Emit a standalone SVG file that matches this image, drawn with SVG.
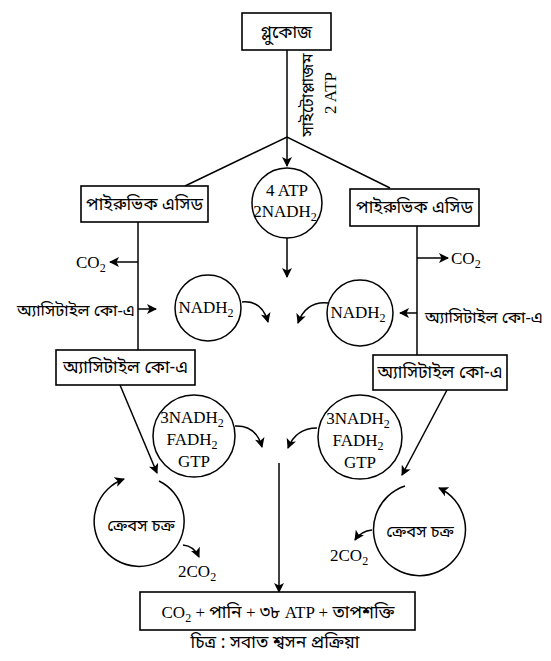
<svg xmlns="http://www.w3.org/2000/svg" width="551" height="661" viewBox="0 0 551 661">
<defs>
<marker id="ah" viewBox="0 0 10 10" refX="9" refY="5" markerWidth="10" markerHeight="10" markerUnits="userSpaceOnUse" orient="auto">
<path d="M0,0 L10,5 L0,10 L2.5,5 z" fill="#000"/>
</marker>
<style>
.box{fill:#fff;stroke:#000;stroke-width:1.6}
.circ{fill:#fff;stroke:#000;stroke-width:1.5}
.ln{fill:none;stroke:#000;stroke-width:1.5}
.bn{font-family:"Noto Sans Bengali","Noto Sans","Lohit Bengali",sans-serif;font-size:17.5px;fill:#000}
.bns{font-family:"Noto Sans Bengali","Noto Sans","Lohit Bengali",sans-serif;font-size:16.5px;fill:#000}
.lt{font-family:"Liberation Serif","Times New Roman",serif;font-size:17px;fill:#000}
</style>
</defs>
<rect width="551" height="661" fill="#fff"/>
<g id="connectors">
<line class="ln" x1="287" y1="50" x2="287" y2="166" marker-end="url(#ah)"/>
<polyline class="ln" points="185,186 287,137 390,188"/>
<line class="ln" x1="287" y1="238" x2="287" y2="277" marker-end="url(#ah)"/>
<line class="ln" x1="138" y1="222" x2="138" y2="350"/>
<line class="ln" x1="138" y1="262" x2="110" y2="262" marker-end="url(#ah)"/>
<line class="ln" x1="138" y1="309" x2="156" y2="309" marker-end="url(#ah)"/>
<line class="ln" x1="417" y1="226" x2="417" y2="355"/>
<line class="ln" x1="417" y1="258" x2="448" y2="258" marker-end="url(#ah)"/>
<line class="ln" x1="417" y1="313" x2="400" y2="313" marker-end="url(#ah)"/>
<path class="ln" d="M242,302 Q262,300 268,322" marker-end="url(#ah)"/>
<path class="ln" d="M328,303 Q306,301 298,323" marker-end="url(#ah)"/>
<line class="ln" x1="120" y1="385" x2="157" y2="473" marker-end="url(#ah)"/>
<line class="ln" x1="447" y1="390" x2="402" y2="475" marker-end="url(#ah)"/>
<path class="ln" d="M235,426 Q256,425 262,447" marker-end="url(#ah)"/>
<path class="ln" d="M317,428 Q296,428 288,448" marker-end="url(#ah)"/>
<line class="ln" x1="279" y1="463" x2="279" y2="592" marker-end="url(#ah)"/>
</g>
<g id="glucose">
<rect class="box" x="242" y="13" width="89" height="37"/>
<text class="bn" x="286.5" y="38" text-anchor="middle" font-size="18">গ্লুকোজ</text>
</g>
<g id="cytoplasm-label">
<text class="bns" transform="translate(313,95) rotate(-90)" text-anchor="middle">সাইটোপ্লাজম</text>
<text class="lt" transform="translate(336,93) rotate(-90)" text-anchor="middle">2 ATP</text>
</g>
<g id="pyruvic-left">
<rect class="box" x="81" y="186" width="127" height="36"/>
<text class="bn" x="144.5" y="210" text-anchor="middle">পাইরুভিক এসিড</text>
</g>
<g id="pyruvic-right">
<rect class="box" x="350" y="189" width="129" height="37"/>
<text class="bn" x="414.5" y="213" text-anchor="middle">পাইরুভিক এসিড</text>
</g>
<g id="atp-center">
<circle class="circ" cx="287" cy="203" r="35"/>
<text class="lt" x="287" y="196" text-anchor="middle">4 ATP</text>
<text class="lt" x="285" y="217" text-anchor="middle">2NADH<tspan font-size="12" dy="4">2</tspan></text>
</g>
<g id="co2-left"><text class="lt" x="76" y="268">CO<tspan font-size="12" dy="4">2</tspan></text></g>
<g id="co2-right"><text class="lt" x="451" y="264">CO<tspan font-size="12" dy="4">2</tspan></text></g>
<g id="acetyl-label-left"><text class="bns" x="17" y="316">অ্যাসিটাইল কো-এ</text></g>
<g id="acetyl-label-right"><text class="bns" x="425" y="323">অ্যাসিটাইল কো-এ</text></g>
<g id="nadh-left">
<circle class="circ" cx="208" cy="308" r="33"/>
<text class="lt" x="206" y="313" text-anchor="middle">NADH<tspan font-size="12" dy="4">2</tspan></text>
</g>
<g id="nadh-right">
<circle class="circ" cx="360" cy="313" r="33"/>
<text class="lt" x="358" y="318" text-anchor="middle">NADH<tspan font-size="12" dy="4">2</tspan></text>
</g>
<g id="acetyl-left">
<rect class="box" x="56" y="350" width="139" height="35"/>
<text class="bn" x="125.5" y="373" text-anchor="middle">অ্যাসিটাইল কো-এ</text>
</g>
<g id="acetyl-right">
<rect class="box" x="373" y="355" width="134" height="35"/>
<text class="bn" x="440" y="378" text-anchor="middle">অ্যাসিটাইল কো-এ</text>
</g>
<g id="products-left">
<circle class="circ" cx="194" cy="436" r="41"/>
<text class="lt" x="192" y="423" text-anchor="middle">3NADH<tspan font-size="12" dy="4">2</tspan></text>
<text class="lt" x="192" y="445" text-anchor="middle">FADH<tspan font-size="12" dy="4">2</tspan></text>
<text class="lt" x="194" y="467" text-anchor="middle">GTP</text>
</g>
<g id="products-right">
<circle class="circ" cx="360" cy="437" r="42"/>
<text class="lt" x="358" y="424" text-anchor="middle">3NADH<tspan font-size="12" dy="4">2</tspan></text>
<text class="lt" x="358" y="446" text-anchor="middle">FADH<tspan font-size="12" dy="4">2</tspan></text>
<text class="lt" x="360" y="468" text-anchor="middle">GTP</text>
</g>
<g id="krebs-left">
<path class="ln" d="M159,481 A45,45 0 1 1 124,479" marker-end="url(#ah)"/>
<text class="bns" x="141" y="531" text-anchor="middle">ক্রেবস চক্র</text>
<path class="ln" d="M183,545 Q194,546 199,557" marker-end="url(#ah)"/>
<text class="lt" x="178" y="577">2CO<tspan font-size="12" dy="4">2</tspan></text>
</g>
<g id="krebs-right">
<path class="ln" d="M405,486 A46,46 0 1 0 439,488" marker-end="url(#ah)"/>
<text class="bns" x="420" y="537" text-anchor="middle">ক্রেবস চক্র</text>
<path class="ln" d="M372,530 Q361,531 355,540" marker-end="url(#ah)"/>
<text class="lt" x="330" y="561">2CO<tspan font-size="12" dy="4">2</tspan></text>
</g>
<g id="result">
<rect class="box" x="140" y="592" width="275" height="38"/>
<text x="278" y="618" text-anchor="middle" font-size="17"><tspan class="lt">CO<tspan font-size="12" dy="4">2</tspan></tspan><tspan class="lt" dy="-4"> + </tspan><tspan class="bn" font-size="18">পানি</tspan><tspan class="lt"> + </tspan><tspan class="bn" font-size="18">৩৮</tspan><tspan class="lt"> ATP + </tspan><tspan class="bn" font-size="18">তাপশক্তি</tspan></text>
</g>
<g id="caption">
<text class="bn" x="275" y="648" text-anchor="middle" font-size="19">চিত্র : সবাত শ্বসন প্রক্রিয়া</text>
</g>
</svg>
